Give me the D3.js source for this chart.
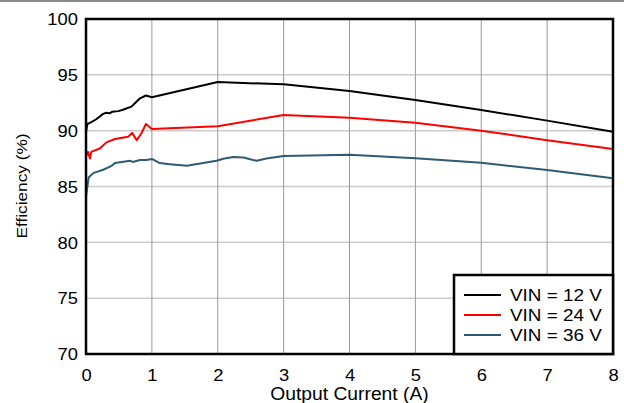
<!DOCTYPE html>
<html>
<head>
<meta charset="utf-8">
<script src="https://cdn.jsdelivr.net/npm/d3@7"></script>
<style>
  body { margin: 0; background: #fff; }
  text { font-family: "Liberation Sans", Arial, sans-serif; }
</style>
</head>
<body>
<script>
var width = 624, height = 403;
var margin = {top: 19, right: 11, bottom: 49, left: 86};

var xTicks = [0, 1, 2, 3, 4, 5, 6, 7, 8];
var yTicks = [70, 75, 80, 85, 90, 95, 100];

var vin12 = [[0, 89.9], [0.02, 90.6], [0.06, 90.7], [0.15, 91.0], [0.26, 91.5], [0.3, 91.6],
  [0.36, 91.55], [0.4, 91.7], [0.49, 91.75], [0.55, 91.85], [0.69, 92.15], [0.75, 92.5],
  [0.82, 92.9], [0.91, 93.15], [1.0, 93.0], [2.0, 94.35], [3.0, 94.15], [4.0, 93.55],
  [5.0, 92.75], [6.0, 91.85], [7.0, 90.9], [8.0, 89.9]];
var vin24 = [[0, 87.7], [0.03, 88.1], [0.06, 87.5], [0.08, 88.1], [0.21, 88.4], [0.31, 88.95],
  [0.44, 89.25], [0.64, 89.45], [0.7, 89.8], [0.77, 89.15], [0.84, 89.75], [0.91, 90.6],
  [1.0, 90.15], [2.0, 90.4], [3.0, 91.4], [4.0, 91.15], [5.0, 90.7], [6.0, 90.0],
  [7.0, 89.15], [8.0, 88.35]];
var vin36 = [[0, 84.1], [0.04, 85.8], [0.11, 86.2], [0.26, 86.5], [0.39, 86.85], [0.44, 87.1],
  [0.67, 87.3], [0.71, 87.2], [0.82, 87.38], [0.92, 87.38], [1.0, 87.47], [1.12, 87.1],
  [1.27, 87.0], [1.53, 86.85], [1.78, 87.1], [1.98, 87.3], [2.1, 87.5], [2.24, 87.65],
  [2.39, 87.6], [2.59, 87.3], [2.74, 87.5], [3.0, 87.73], [4.0, 87.85], [5.0, 87.53],
  [6.0, 87.13], [7.0, 86.48], [8.0, 85.74]];

var seriesNames = ["VIN = 12 V", "VIN = 24 V", "VIN = 36 V"];
var seriesColors = ["#000000", "#ff0000", "#2e5b74"];
var seriesData = [vin12, vin24, vin36];

var svg = d3.select("body").append("svg")
  .attr("width", width)
  .attr("height", height);

// stretch text a bit wider, the original uses a wide sans
function widen(sel, k) {
  sel.each(function() {
    var w = this.getComputedTextLength();
    d3.select(this).attr("textLength", w * k).attr("lengthAdjust", "spacingAndGlyphs");
  });
}

// gray rule along the top edge
svg.append("line")
  .attr("x1", 0).attr("x2", width).attr("y1", 1).attr("y2", 1)
  .attr("stroke", "#8a8a8a").attr("stroke-width", 2);

var x = d3.scaleLinear().domain([0, 8]).range([margin.left, width - margin.right]);
var y = d3.scaleLinear().domain([70, 100]).range([height - margin.bottom, margin.top]);

// grid
svg.append("g").selectAll("line").data(yTicks.slice(1, -1)).enter().append("line")
  .attr("x1", x(0)).attr("x2", x(8))
  .attr("y1", function(d) { return y(d); }).attr("y2", function(d) { return y(d); })
  .attr("stroke", "#cccccc").attr("stroke-width", 1.5);
svg.append("g").selectAll("line").data(xTicks.slice(1, -1)).enter().append("line")
  .attr("y1", y(70)).attr("y2", y(100))
  .attr("x1", function(d) { return x(d); }).attr("x2", function(d) { return x(d); })
  .attr("stroke", "#999999").attr("stroke-width", 1);

// axes (labels only)
var xAxis = svg.append("g")
  .attr("transform", "translate(0," + (y(70) + 2) + ")")
  .call(d3.axisBottom(x).tickValues(xTicks).tickSize(0).tickPadding(0));
var yAxis = svg.append("g")
  .attr("transform", "translate(" + (x(0) - 8) + ",0)")
  .call(d3.axisLeft(y).tickValues(yTicks).tickSize(0).tickPadding(0));
[xAxis, yAxis].forEach(function(a) {
  a.select(".domain").remove();
  a.selectAll("text").attr("font-size", 17).attr("fill", "#000")
    .attr("font-family", "Liberation Sans, Arial, sans-serif");
});
xAxis.selectAll("text").attr("dy", "1.45em");
yAxis.selectAll("text").attr("dy", "0.34em");
widen(xAxis.selectAll("text"), 1.08);
widen(yAxis.selectAll("text"), 1.08);

// lines
var line = d3.line()
  .x(function(d) { return x(d[0]); })
  .y(function(d) { return y(d[1]); });
svg.append("g").selectAll("path").data(seriesData).enter().append("path")
  .attr("d", line)
  .attr("fill", "none")
  .attr("stroke", function(d, i) { return seriesColors[i]; })
  .attr("stroke-width", 2)
  .attr("stroke-linejoin", "round");

// frame
svg.append("rect")
  .attr("x", x(0)).attr("y", y(100))
  .attr("width", x(8) - x(0)).attr("height", y(70) - y(100))
  .attr("fill", "none").attr("stroke", "#000").attr("stroke-width", 2.5);

// legend
var lg = svg.append("g").attr("transform", "translate(454,275)");
lg.append("rect")
  .attr("width", x(8) - 454).attr("height", y(70) - 275)
  .attr("fill", "#fff").attr("stroke", "#000").attr("stroke-width", 2.5);
seriesNames.forEach(function(name, i) {
  var yy = 20 + i * 20;
  lg.append("line")
    .attr("x1", 10).attr("x2", 47).attr("y1", yy).attr("y2", yy)
    .attr("stroke", seriesColors[i]).attr("stroke-width", 2);
  var t = lg.append("text")
    .attr("x", 56).attr("y", yy + 6)
    .attr("font-size", 16).text(name);
  widen(t, 1.18);
});

// axis titles
var xt = svg.append("text")
  .attr("x", (x(0) + x(8)) / 2).attr("y", 400)
  .attr("text-anchor", "middle").attr("font-size", 18)
  .text("Output Current (A)");
widen(xt, 1.07);
svg.append("text")
  .attr("transform", "translate(27,186) rotate(-90)")
  .attr("text-anchor", "middle").attr("font-size", 15.5)
  .attr("textLength", 105).attr("lengthAdjust", "spacingAndGlyphs")
  .text("Efficiency (%)");
</script>
</body>
</html>
